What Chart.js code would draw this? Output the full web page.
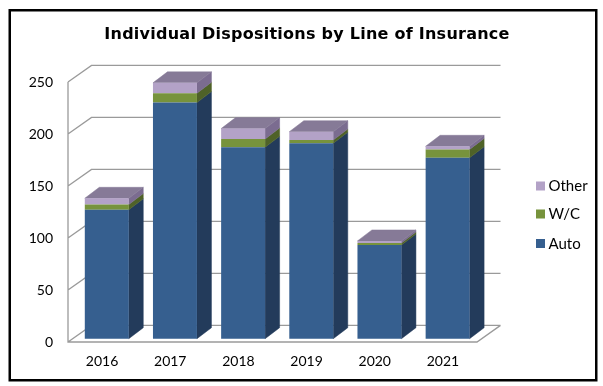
<!DOCTYPE html>
<html>
<head>
<meta charset="utf-8">
<script src="https://cdn.jsdelivr.net/npm/chart.js@4.4.1/dist/chart.umd.min.js"></script>
<style>
  html, body { margin: 0; padding: 0; background: #ffffff; }
  #c { display: block; }
</style>
</head>
<body>
<canvas id="c" width="603" height="386"></canvas>
<script>
// Dispositions per year, split by line of insurance
const years = ['2016', '2017', '2018', '2019', '2020', '2021'];
const autoCounts  = [124, 227, 184, 188, 90, 174];
const wcCounts    = [5, 9, 8, 3, 2, 8];
const otherCounts = [6, 10, 10, 8, 2, 3];
const seriesNames = ['Auto', 'W/C', 'Other'];
const yTickValues = [0, 50, 100, 150, 200, 250];
const chartTitle = 'Individual Dispositions by Line of Insurance';

// face colours per series: front, side, top
const faceColors = [
  { front: '#365F8F', side: '#233B5B', top: '#2C4B73' },
  { front: '#77933C', side: '#4F6228', top: '#62792F' },
  { front: '#B3A2C7', side: '#7B6C90', top: '#867A97' }
];

// oblique projection vectors (pixels)
const WALL_DEPTH = { x: 23.5, y: -16.6 };  // front plane -> back wall
const BAR_OFFSET = { x: 4.7, y: -3.3 };    // front plane -> bar front faces
const BAR_DEPTH  = { x: 14.5, y: -11 };    // bar front -> bar back

const GRID_COLOR = '#9a9a9a';

const tickFont = { family: 'Lato', size: 14 };

function poly(ctx, pts, fill) {
  ctx.beginPath();
  ctx.moveTo(pts[0][0], pts[0][1]);
  for (let k = 1; k < pts.length; k++) ctx.lineTo(pts[k][0], pts[k][1]);
  ctx.closePath();
  ctx.fillStyle = fill;
  ctx.fill();
  ctx.strokeStyle = fill;
  ctx.lineWidth = 0.5;
  ctx.stroke();
}

const box3d = {
  id: 'box3d',
  beforeDraw(chart) {
    const ctx = chart.ctx;
    ctx.save();
    ctx.fillStyle = '#ffffff';
    ctx.fillRect(0, 0, chart.width, chart.height);
    ctx.restore();
  },
  beforeDatasetsDraw(chart) {
    const ctx = chart.ctx;
    const a = chart.chartArea;
    const y = chart.scales.y;

    // walls: left-wall diagonals, back-wall gridlines, axis and floor
    ctx.save();
    ctx.strokeStyle = GRID_COLOR;
    ctx.lineWidth = 1.3;
    ctx.beginPath();
    yTickValues.forEach(v => {
      const py = y.getPixelForValue(v);
      ctx.moveTo(a.left, py);
      ctx.lineTo(a.left + WALL_DEPTH.x, py + WALL_DEPTH.y);
      ctx.lineTo(a.right + WALL_DEPTH.x, py + WALL_DEPTH.y);
    });
    ctx.moveTo(a.left, a.top);
    ctx.lineTo(a.left, a.bottom);
    ctx.lineTo(a.right, a.bottom);
    ctx.lineTo(a.right + WALL_DEPTH.x, a.bottom + WALL_DEPTH.y);
    ctx.stroke();
    ctx.restore();

    // shift into the bar plane; the front faces drawn by the library follow this shift
    ctx.save();
    ctx.translate(BAR_OFFSET.x, BAR_OFFSET.y);

    const nSets = chart.data.datasets.length;
    const topInfo = [];
    for (let d = 0; d < nSets; d++) {
      const meta = chart.getDatasetMeta(d);
      meta.data.forEach((el, i) => {
        const p = el.getProps(['x', 'y', 'base', 'width'], true);
        const top = Math.min(p.y, p.base);
        const bot = Math.max(p.y, p.base);
        const x1 = p.x - p.width / 2;
        const x2 = p.x + p.width / 2;
        if (bot - top > 0.01) {
          poly(ctx, [
            [x2, bot], [x2, top],
            [x2 + BAR_DEPTH.x, top + BAR_DEPTH.y],
            [x2 + BAR_DEPTH.x, bot + BAR_DEPTH.y]
          ], faceColors[d].side);
          topInfo[i] = { x1, x2, top, d };
        }
      });
    }
    topInfo.forEach(t => {
      if (!t) return;
      poly(ctx, [
        [t.x1, t.top], [t.x2, t.top],
        [t.x2 + BAR_DEPTH.x, t.top + BAR_DEPTH.y],
        [t.x1 + BAR_DEPTH.x, t.top + BAR_DEPTH.y]
      ], faceColors[t.d].top);
    });
  },
  afterDatasetsDraw(chart) {
    chart.ctx.restore();
  },
  afterDraw(chart) {
    const ctx = chart.ctx;
    ctx.save();
    // outer frame
    ctx.strokeStyle = '#000000';
    ctx.lineWidth = 2.5;
    ctx.strokeRect(9.75, 10.25, 586.5, 370);

    // title
    ctx.fillStyle = '#000000';
    ctx.font = 'bold 16px "DejaVu Sans"';
    ctx.letterSpacing = '0.25px';
    ctx.textAlign = 'center';
    ctx.textBaseline = 'alphabetic';
    ctx.fillText(chartTitle, 307, 39);
    ctx.letterSpacing = '0px';

    // legend, top entry is the top of the stack
    ctx.font = '15px Lato';
    ctx.textAlign = 'left';
    ctx.textBaseline = 'middle';
    const rows = [
      { name: seriesNames[2], color: faceColors[2].front, y: 186 },
      { name: seriesNames[1], color: faceColors[1].front, y: 214 },
      { name: seriesNames[0], color: faceColors[0].front, y: 243.5 }
    ];
    rows.forEach(r => {
      ctx.fillStyle = r.color;
      ctx.fillRect(536, r.y - 4.5, 9, 9);
      ctx.fillStyle = '#000000';
      ctx.fillText(r.name, 548.5, r.y + 0.5);
    });
    ctx.restore();
  }
};

new Chart(document.getElementById('c'), {
  type: 'bar',
  data: {
    labels: years,
    datasets: [
      { label: seriesNames[0], data: autoCounts,  backgroundColor: faceColors[0].front },
      { label: seriesNames[1], data: wcCounts,    backgroundColor: faceColors[1].front },
      { label: seriesNames[2], data: otherCounts, backgroundColor: faceColors[2].front }
    ]
  },
  options: {
    responsive: false,
    animation: false,
    devicePixelRatio: 1,
    clip: false,
    categoryPercentage: 1,
    barPercentage: 0.645,
    layout: { padding: { left: 0, right: 126, top: 82, bottom: 14 } },
    plugins: {
      legend: { display: false },
      title: { display: false },
      tooltip: { enabled: false }
    },
    scales: {
      x: {
        stacked: true,
        grid: { display: false, drawTicks: false },
        border: { display: false },
        ticks: { font: tickFont, color: '#000000', padding: 11, maxRotation: 0 },
        afterFit(s) { s.height = 30; }
      },
      y: {
        stacked: true,
        min: 0,
        max: 250,
        grid: { display: false, drawTicks: false },
        border: { display: false },
        ticks: { stepSize: 50, font: tickFont, color: '#000000', padding: 15 },
        afterFit(s) { s.width = 68; }
      }
    }
  },
  plugins: [box3d]
});
</script>
</body>
</html>
